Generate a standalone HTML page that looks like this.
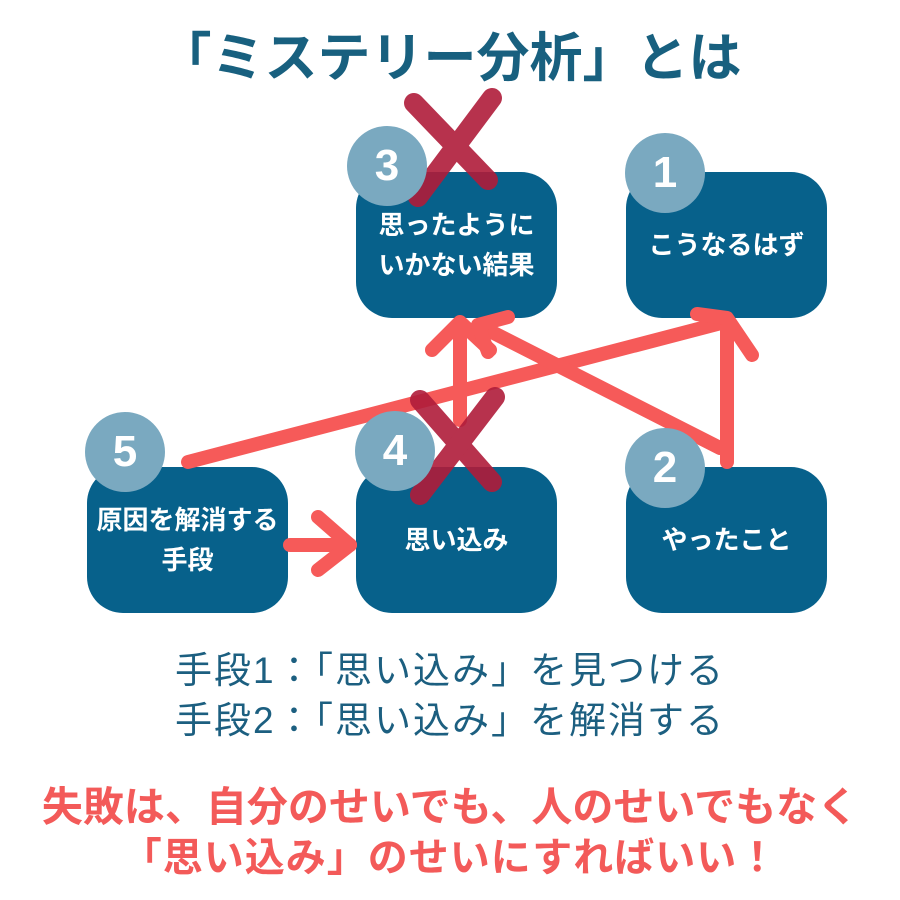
<!DOCTYPE html>
<html><head><meta charset="utf-8"><style>
body{margin:0;width:900px;height:900px;background:#fff;position:relative;overflow:hidden;font-family:"Liberation Sans","Noto Sans CJK JP",sans-serif}
.t{position:absolute;left:0;width:900px;text-align:center;white-space:nowrap}
.box{position:absolute;width:201px;height:146px;background:#07618b;border-radius:36px;color:#fff;font-weight:bold;font-size:26px;display:flex;align-items:center;justify-content:center;text-align:center;line-height:40px}
.c{position:absolute;width:80px;height:80px;border-radius:50%;background:#7aa9c0;color:#fff;font-weight:bold;font-size:44px;display:flex;align-items:center;justify-content:center}
svg{position:absolute;left:0;top:0}
</style></head><body>
<div class="t" style="top:16px;font-size:53px;font-weight:bold;color:#18607f">「ミステリー分析」とは</div>

<div class="box" style="left:356px;top:172px">思ったように<br>いかない結果</div>
<div class="box" style="left:626px;top:172px">こうなるはず</div>
<div class="box" style="left:87px;top:467px">原因を解消する<br>手段</div>
<div class="box" style="left:356px;top:467px">思い込み</div>
<div class="box" style="left:626px;top:467px">やったこと</div>

<svg width="900" height="900">
<g stroke="#f65a59" stroke-width="14" fill="none" stroke-linecap="round" stroke-linejoin="round">
<line x1="188" y1="462" x2="725" y2="322"/>
<line x1="460" y1="420" x2="460" y2="325"/>
<polyline points="432,350 460,322 490,350"/>
<line x1="720" y1="448" x2="478" y2="325"/>
<polyline points="508,317 478,325 488,352"/>
<line x1="727" y1="462" x2="727" y2="325"/>
<polyline points="697,314 727,318 752,355"/>
<line x1="290" y1="545" x2="350" y2="545"/>
<polyline points="318,517 350,545 318,570"/>
</g>
<g stroke="#b01c3a" stroke-width="20" stroke-linecap="round" opacity="0.9">
<line x1="414" y1="103" x2="488" y2="180"/>
<line x1="492" y1="98" x2="418" y2="197"/>
<line x1="420" y1="400" x2="492" y2="482"/>
<line x1="495" y1="397" x2="420" y2="495"/>
</g>
</svg>

<div class="c" style="left:347px;top:126px">3</div>
<div class="c" style="left:625px;top:133px">1</div>
<div class="c" style="left:85px;top:412px">5</div>
<div class="c" style="left:355px;top:411px">4</div>
<div class="c" style="left:625px;top:428px">2</div>

<div class="t" style="top:640px;font-size:37px;letter-spacing:2px;color:#1c5f80">手段1：「思い込み」を見つける</div>
<div class="t" style="top:690px;font-size:37px;letter-spacing:2px;color:#1c5f80">手段2：「思い込み」を解消する</div>
<div class="t" style="top:773px;font-size:41px;font-weight:bold;color:#f35a59">失敗は、自分のせいでも、人のせいでもなく</div>
<div class="t" style="top:825px;font-size:40px;letter-spacing:1px;font-weight:bold;color:#f35a59">「思い込み」のせいにすればいい！</div>
</body></html>
